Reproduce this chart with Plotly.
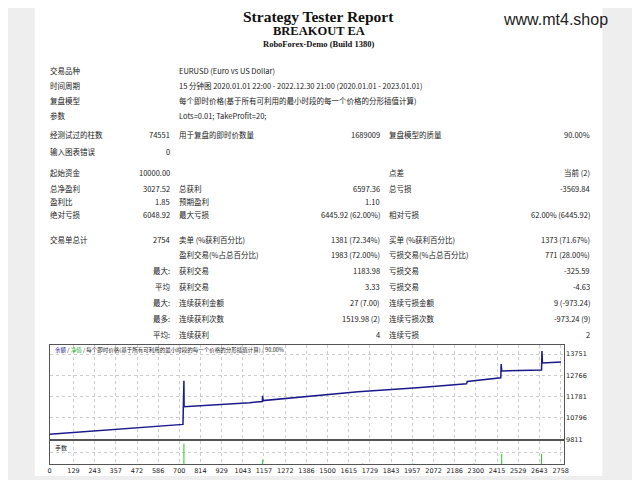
import plotly.graph_objects as go

# equity curve (trade number, balance)
trade_no = [0, 720, 725, 726, 1080, 1148, 1150, 1152, 1665, 1985, 2250, 2254, 2435, 2437, 2440, 2655, 2657, 2660, 2760]
balance = [10050, 10500, 12513, 11320, 11500, 11560, 11826, 11600, 12010, 12190, 12375, 12480, 12650, 13290, 12970, 13017, 13887, 13340, 13385]

# lot spikes in the lower panel
lot_x = [725, 1150, 1690, 1960, 2290, 2440, 2655]
lot_y = [0.9, 0.2, 0.03, 0.03, 0.03, 0.45, 0.45]

x_ticks = [0, 129, 243, 357, 472, 586, 700, 814, 929, 1043, 1157, 1272, 1386, 1500,
           1615, 1729, 1843, 1957, 2072, 2186, 2300, 2415, 2529, 2643, 2758]
y_ticks = [9811, 10796, 11781, 12766, 13751]

info_rows = [
    ("交易品种", "EURUSD (Euro vs US Dollar)", 71),
    ("时间周期", "15 分钟图 2020.01.01 22:00 - 2022.12.30 21:00 (2020.01.01 - 2023.01.01)", 86),
    ("复盘模型", "每个即时价格(基于所有可利用的最小时段的每一个价格的分形插值计算)", 101),
    ("参数", "Lots=0.01; TakeProfit=20;", 116),
]
# label1, value1, label2, value2, label3, value3, y
stat_rows = [
    ("经测试过的柱数", "74551", "用于复盘的即时价数量", "1689009", "复盘模型的质量", "90.00%", 136),
    ("输入图表错误", "0", "", "", "", "", 153),
    ("起始资金", "10000.00", "", "", "点差", "当前 (2)", 174),
    ("总净盈利", "3027.52", "总获利", "6597.36", "总亏损", "-3569.84", 190),
    ("盈利比", "1.85", "预期盈利", "1.10", "", "", 203),
    ("绝对亏损", "6048.92", "最大亏损", "6445.92 (62.00%)", "相对亏损", "62.00% (6445.92)", 216),
    ("交易单总计", "2754", "卖单 (%获利百分比)", "1381 (72.34%)", "买单 (%获利百分比)", "1373 (71.67%)", 241),
    ("", "", "盈利交易(%占总百分比)", "1983 (72.00%)", "亏损交易(%占总百分比)", "771 (28.00%)", 257),
    ("", "最大:", "获利交易", "1183.98", "亏损交易", "-325.59", 273),
    ("", "平均", "获利交易", "3.33", "亏损交易", "-4.63", 289),
    ("", "最大:", "连续获利金额", "27 (7.00)", "连续亏损金额", "9 (-973.24)", 305),
    ("", "最多:", "连续获利次数", "1519.98 (2)", "连续亏损次数", "-973.24 (9)", 321),
    ("", "平均:", "连续获利", "4", "连续亏损", "2", 337),
]

# page body has an 8px margin, so the figure is offset by 8px
OFF = 8
W, H = 640 - OFF, 480 - OFF
def px(x):
    return (x - OFF) / W
def py(y):
    return 1 - (y - OFF) / H

font_cjk = "Noto Sans CJK SC"
ann = []
def txt(x, y, s, size=7.5, anchor="left", family=font_cjk, color="#222", bold=False):
    if not s:
        return
    ann.append(dict(x=px(x), y=py(y), xref="paper", yref="paper", text=f"<b>{s}</b>" if bold else s,
                    showarrow=False, xanchor=anchor, yanchor="middle",
                    font=dict(size=size, family=family, color=color)))

txt(320, 17, "Strategy Tester Report", 15.5, "center", "Liberation Serif", "#111", True)
txt(320, 31, "BREAKOUT EA", 12.5, "center", "Liberation Serif", "#111", True)
txt(320, 44, "RoboForex-Demo (Build 1380)", 8.5, "center", "Liberation Serif", "#111", True)
txt(560, 20, "www.mt4.shop", 16, "center", "Liberation Sans", "#222")

for lab, val, y in info_rows:
    txt(46, y, lab)
    txt(177, y, val)
for l1, v1, l2, v2, l3, v3, y in stat_rows:
    txt(46, y, l1)
    txt(172, y, v1, anchor="right")
    txt(177, y, l2)
    txt(384, y, v2, anchor="right")
    txt(389, y, l3)
    txt(597, y, v3, anchor="right")

txt(51, 353, "<span style='color:#1a1a8c'>余额</span> / <span style='color:#2a2'>净值</span> / "
    "每个即时价格(基于所有可利用的最小时段的每一个价格的分形插值计算) / 90.00%", 5.5)
txt(51, 451, "手数", 6)

fig = go.Figure()
fig.add_trace(go.Scatter(x=trade_no, y=balance, mode="lines", line=dict(color="#1a1a8c", width=1.5),
                         xaxis="x", yaxis="y", showlegend=False))
lx, ly = [], []
for a, b in zip(lot_x, lot_y):
    lx += [a, a, None]
    ly += [0, b, None]
fig.add_trace(go.Scatter(x=lx, y=ly, mode="lines", line=dict(color="#22cc22", width=1),
                         xaxis="x2", yaxis="y2", showlegend=False))

grid = dict(showgrid=True, gridcolor="#cccccc", griddash="dot", gridwidth=1,
            showline=True, linecolor="#555", mirror=True, zeroline=False)
tfont = dict(size=6.5, family="DejaVu Sans", color="#222")
fig.update_layout(
    width=W, height=H, margin=dict(l=0, r=0, t=0, b=0),
    paper_bgcolor="#eeeeee", plot_bgcolor="white",
    annotations=ann,
    shapes=[dict(type="rect", xref="paper", yref="paper", x0=px(33), x1=px(607), y0=0, y1=1,
                 fillcolor="white", line=dict(width=0), layer="below")],
    xaxis=dict(domain=[px(48), px(568)], range=[0, 2775], anchor="y", showticklabels=False,
               tickvals=x_ticks, **grid),
    yaxis=dict(domain=[py(443), py(348)], range=[9811, 14162], side="right", tickvals=y_ticks,
               tickformat="d", tickfont=tfont, ticks="", **grid),
    xaxis2=dict(domain=[px(48), px(568)], range=[0, 2775], anchor="y2", tickvals=x_ticks,
                tickfont=tfont, ticks="", **grid),
    yaxis2=dict(domain=[py(468), py(445)], range=[0, 1], side="right", showticklabels=False,
                tickvals=[0.5], **grid),
)
fig.write_html("out.html")
